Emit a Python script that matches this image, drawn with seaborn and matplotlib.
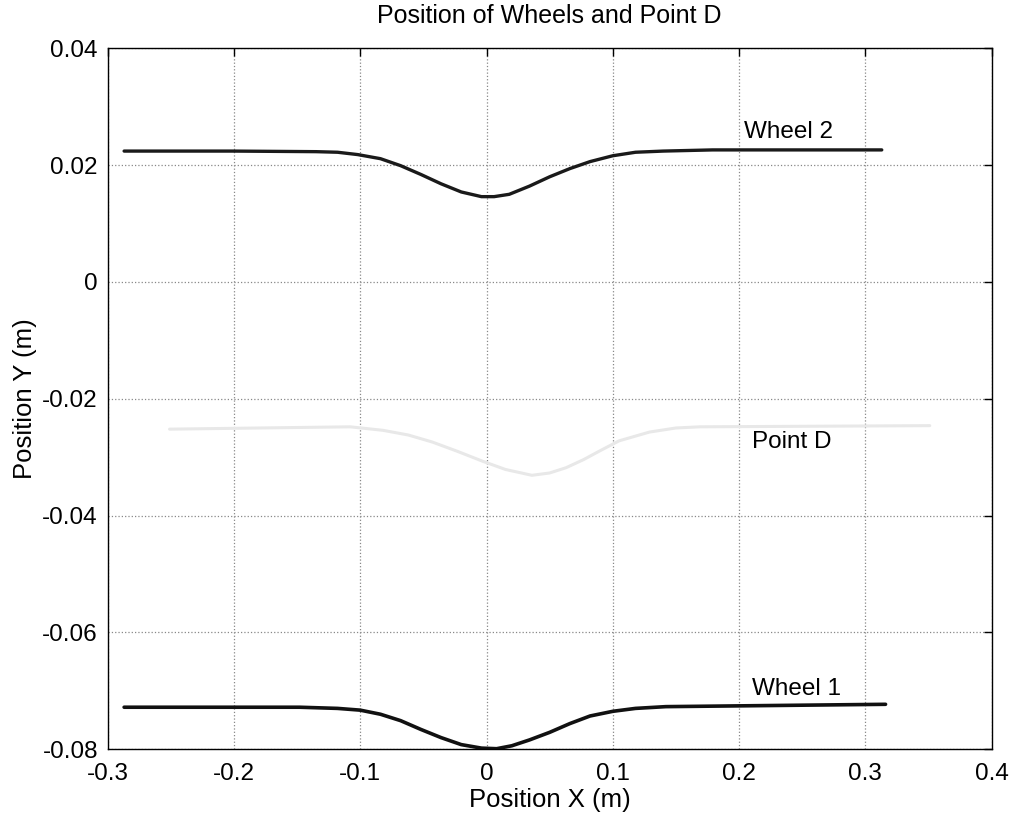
import pandas as pd
import matplotlib
matplotlib.use("Agg")
import matplotlib.pyplot as plt
import seaborn as sns

# Values
wheel2_x = [-0.287, -0.201, -0.135, -0.118, -0.102, -0.084, -0.068, -0.052, -0.036, -0.020,
            -0.004, 0.006, 0.018, 0.034, 0.050, 0.066, 0.082, 0.100, 0.118, 0.140,
            0.179, 0.313]
wheel2_y = [0.0224, 0.0224, 0.0223, 0.0222, 0.0218, 0.0211, 0.0199, 0.0184, 0.0168, 0.0154,
            0.0146, 0.0146, 0.0150, 0.0164, 0.0180, 0.0194, 0.0206, 0.0216, 0.0222, 0.0224,
            0.0226, 0.0226]

wheel1_x = [-0.287, -0.148, -0.118, -0.100, -0.084, -0.068, -0.052, -0.036, -0.020, -0.004,
            0.008, 0.020, 0.034, 0.050, 0.066, 0.082, 0.100, 0.118, 0.142, 0.316]
wheel1_y = [-0.0728, -0.0728, -0.0730, -0.0733, -0.0740, -0.0751, -0.0766, -0.0780, -0.0792, -0.0798,
            -0.0799, -0.0794, -0.0784, -0.0771, -0.0756, -0.0743, -0.0735, -0.0730, -0.0727, -0.0723]

pointd_x = [-0.251, -0.108, -0.082, -0.062, -0.043, -0.023, -0.003, 0.015, 0.036, 0.050,
            0.063, 0.077, 0.089, 0.105, 0.129, 0.150, 0.169, 0.351]
pointd_y = [-0.0252, -0.0248, -0.0254, -0.0262, -0.0274, -0.0290, -0.0307, -0.0321, -0.0331, -0.0327,
            -0.0318, -0.0304, -0.0290, -0.0272, -0.0257, -0.0250, -0.0248, -0.0246]

x_ticks = [-0.3, -0.2, -0.1, 0, 0.1, 0.2, 0.3, 0.4]
y_ticks = [-0.08, -0.06, -0.04, -0.02, 0, 0.02, 0.04]

sns.set_style("white")
plt.rcParams['font.family'] = ['Liberation Sans', 'DejaVu Sans']
plt.rcParams['text.color'] = 'black'
plt.rcParams['axes.labelcolor'] = 'black'
plt.rcParams['xtick.color'] = 'black'
plt.rcParams['ytick.color'] = 'black'

fig = plt.figure(figsize=(10.16, 8.18), dpi=100)
ax = fig.add_axes([0.106, 0.084, 0.870, 0.857])

sns.lineplot(x=pointd_x, y=pointd_y, sort=False, color="#e8e8e8", linewidth=2.2, ax=ax)
sns.lineplot(x=wheel2_x, y=wheel2_y, sort=False, color="#1a1a1a", linewidth=2.4, ax=ax)
sns.lineplot(x=wheel1_x, y=wheel1_y, sort=False, color="#111111", linewidth=2.6, ax=ax)

ax.text(0.204, 0.0256, "Wheel 2", fontsize=17.5, va="center", ha="left")
ax.text(0.210, -0.0274, "Point D", fontsize=17.5, va="center", ha="left")
ax.text(0.210, -0.0696, "Wheel 1", fontsize=17.5, va="center", ha="left")

ax.set_xlim(-0.3, 0.4)
ax.set_ylim(-0.08, 0.04)
ax.set_xticks(x_ticks)
ax.set_xticklabels([f"{v:g}" for v in x_ticks])
ax.set_yticks(y_ticks)
ax.set_yticklabels([f"{v:g}" for v in y_ticks])
ax.tick_params(direction="in", length=6, labelsize=17.5, top=True, right=True, width=1)
ax.tick_params(axis="x", pad=10)
ax.tick_params(axis="y", pad=7)
ax.grid(True, linestyle=":", color="#888888", linewidth=0.9)
for s in ax.spines.values():
    s.set_color("black")
    s.set_linewidth(1.0)

ax.set_title("Position of Wheels and Point D", fontsize=18, pad=18)
ax.set_xlabel("Position X (m)", fontsize=18.5, labelpad=2)
ax.set_ylabel("Position Y (m)", fontsize=18.5, labelpad=4)

fig.savefig("out.png", dpi=100)
